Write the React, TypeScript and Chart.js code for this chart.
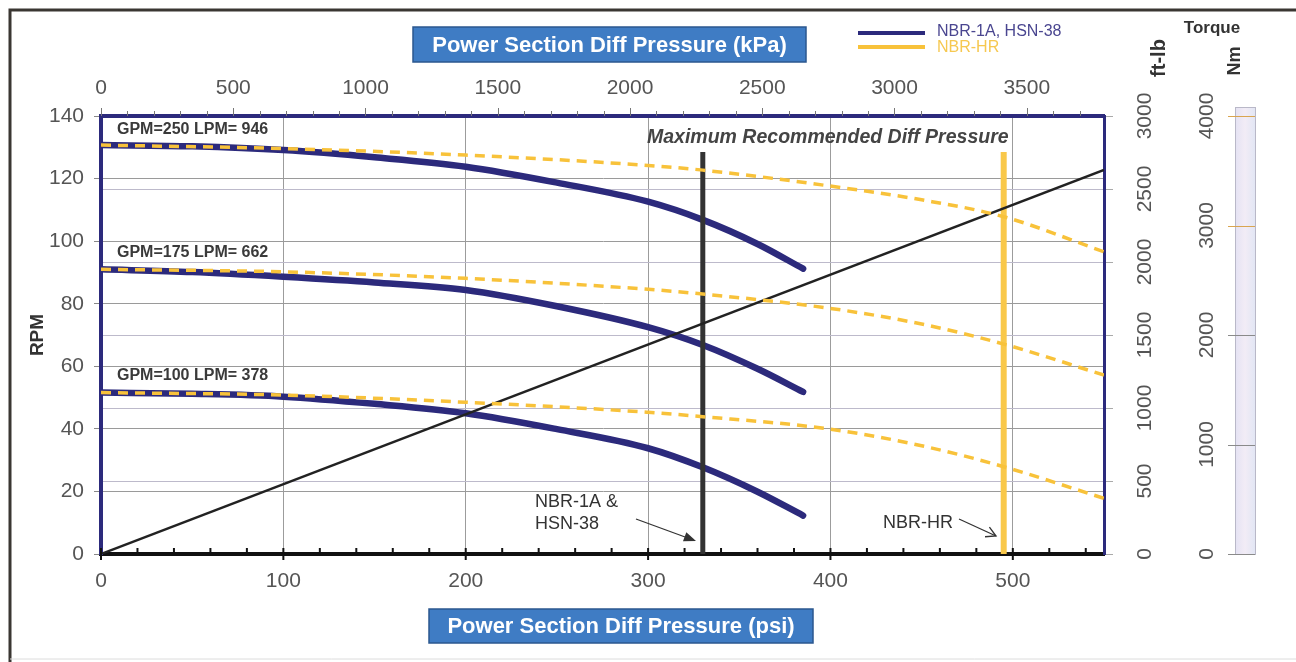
import React, { useEffect, useRef } from "react";
import { Chart, registerables } from "chart.js";

Chart.register(...registerables);

// ---------- data ----------
const KPA_PER_PSI = 6.894757;
const psiMax = 550;
const rpmMax = 140;
const ftlbMax = 3000;
const nmMax = 4000;

const psiTickValues = [0, 100, 200, 300, 400, 500];
const kpaTickValues = [0, 500, 1000, 1500, 2000, 2500, 3000, 3500];
const rpmTickValues = [0, 20, 40, 60, 80, 100, 120, 140];
const ftlbTickValues = [0, 500, 1000, 1500, 2000, 2500, 3000];
const nmTickValues = [0, 1000, 2000, 3000, 4000];

// NBR-1A, HSN-38 (solid navy)
const psiStd = [0, 50, 100, 150, 200, 250, 300, 330, 360, 385];
const rpm250Std = [130.7, 130.3, 129.1, 126.8, 123.8, 118.7, 112.6, 106.8, 99.1, 91.2];
const rpm175Std = [91.0, 90.1, 88.6, 86.8, 84.4, 79.2, 72.5, 66.8, 59.2, 51.8];
const rpm100Std = [51.6, 51.2, 50.3, 48.0, 45.0, 39.9, 33.8, 27.7, 19.9, 12.3];

// NBR-HR (dashed yellow)
const psiHR = [0, 100, 200, 300, 330, 400, 450, 495, 550];
const rpm250HR = [130.7, 129.6, 127.5, 124.2, 122.7, 117.6, 113.2, 107.8, 96.6];
const rpm175HR = [91.0, 90.2, 88.1, 84.6, 83.1, 78.5, 73.5, 67.1, 57.2];
const rpm100HR = [51.6, 50.8, 48.5, 45.3, 43.9, 39.9, 34.6, 27.9, 17.8];

// Torque line (ft-lb)
const psiTorque = [0, 550];
const torqueFtlb = [0, 2630];

// Maximum recommended diff pressure markers
const maxPsiStd = 330;
const maxPsiHR = 495;
const markerTopRpm = 128.5;

const flowLabels = ["GPM=250 LPM= 946", "GPM=175 LPM= 662", "GPM=100 LPM= 378"];
const flowLabelRpm = [135.5, 96.3, 57.0];

const NAVY = "#2c2a7c";
const GOLD = "#f8c23a";
const FONT = "'Liberation Sans', Arial, Helvetica, sans-serif";

function pts(xs: number[], ys: number[]) {
  return xs.map((x, i) => ({ x, y: ys[i] }));
}

function setTicks(values: number[]) {
  return (s: any) => {
    s.ticks = values.map((v) => ({ value: v }));
  };
}

function arrow(ctx: CanvasRenderingContext2D, x1: number, y1: number, x2: number, y2: number, filled: boolean) {
  const a = Math.atan2(y2 - y1, x2 - x1);
  const L = filled ? 13 : 11;
  const w = filled ? 0.38 : 0.5;
  ctx.beginPath();
  ctx.moveTo(x1, y1);
  ctx.lineTo(filled ? x2 - Math.cos(a) * 8 : x2, filled ? y2 - Math.sin(a) * 8 : y2);
  ctx.stroke();
  ctx.beginPath();
  ctx.moveTo(x2 - L * Math.cos(a - w), y2 - L * Math.sin(a - w));
  ctx.lineTo(x2, y2);
  ctx.lineTo(x2 - L * Math.cos(a + w), y2 - L * Math.sin(a + w));
  if (filled) {
    ctx.closePath();
    ctx.fill();
  } else ctx.stroke();
}

function titleBox(ctx: CanvasRenderingContext2D, x: number, y: number, w: number, h: number, text: string) {
  ctx.fillStyle = "#3f7cc4";
  ctx.fillRect(x, y, w, h);
  ctx.strokeStyle = "#2b578f";
  ctx.lineWidth = 1.5;
  ctx.strokeRect(x, y, w, h);
  ctx.fillStyle = "#ffffff";
  ctx.font = `bold 22px ${FONT}`;
  ctx.textAlign = "center";
  ctx.textBaseline = "middle";
  ctx.fillText(text, x + w / 2, y + h / 2 + 1);
}

const decor = {
  id: "decor",
  beforeDraw(chart: any) {
    const ctx: CanvasRenderingContext2D = chart.ctx;
    ctx.save();
    ctx.fillStyle = "#ffffff";
    ctx.fillRect(0, 0, chart.width, chart.height);
    // outer frame
    ctx.strokeStyle = "#3a3632";
    ctx.lineWidth = 3;
    ctx.beginPath();
    ctx.moveTo(10, 662);
    ctx.lineTo(10, 10);
    ctx.lineTo(1296, 10);
    ctx.stroke();
    ctx.strokeStyle = "#dcdcdc";
    ctx.lineWidth = 1;
    ctx.beginPath();
    ctx.moveTo(10, 659);
    ctx.lineTo(1296, 659);
    ctx.stroke();

    // Nm bar
    const s3 = chart.scales.y3;
    const top = s3.getPixelForValue(nmMax) - 9;
    const bot = s3.getPixelForValue(0);
    const g = ctx.createLinearGradient(1235, 0, 1255, 0);
    g.addColorStop(0, "#e4e2f3");
    g.addColorStop(0.5, "#f2ecf6");
    g.addColorStop(1, "#e2e6f4");
    ctx.fillStyle = g;
    ctx.fillRect(1235, top, 20, bot - top);
    ctx.strokeStyle = "#b9b8c8";
    ctx.lineWidth = 1;
    ctx.strokeRect(1235.5, top + 0.5, 20, bot - top);
    ctx.restore();
  },
  afterDatasetsDraw(chart: any) {
    const ctx: CanvasRenderingContext2D = chart.ctx;
    const x = chart.scales.x;
    const xt = chart.scales.xTop;
    const y = chart.scales.y;
    const y2 = chart.scales.y2;
    const y3 = chart.scales.y3;
    const area = chart.chartArea;
    ctx.save();

    // inner minor ticks bottom axis (every 20 psi)
    ctx.strokeStyle = "#111";
    ctx.lineWidth = 2;
    for (let v = 0; v <= psiMax; v += 20) {
      const px = x.getPixelForValue(v);
      ctx.beginPath();
      if (v % 100 === 0) {
        ctx.moveTo(px, area.bottom - 6);
        ctx.lineTo(px, area.bottom + 6);
      } else {
        ctx.moveTo(px, area.bottom - 6);
        ctx.lineTo(px, area.bottom);
      }
      ctx.stroke();
    }
    // top axis ticks (every 100 kPa)
    ctx.strokeStyle = "#777";
    ctx.lineWidth = 1;
    for (let v = 0; v <= psiMax * KPA_PER_PSI; v += 100) {
      const px = Math.round(xt.getPixelForValue(v)) + 0.5;
      ctx.beginPath();
      ctx.moveTo(px, area.top - (v % 500 === 0 ? 8 : 5));
      ctx.lineTo(px, area.top);
      ctx.stroke();
    }

    // Nm bar ticks
    for (let v = 0; v <= nmMax; v += 1000) {
      const py = Math.round(y3.getPixelForValue(v)) + 0.5;
      ctx.strokeStyle = v >= 3000 ? "#d9a550" : "#8a8a8a";
      ctx.beginPath();
      ctx.moveTo(1228, py);
      ctx.lineTo(1255, py);
      ctx.stroke();
    }

    // rotated right-axis labels
    ctx.fillStyle = "#555";
    ctx.font = `21px ${FONT}`;
    ctx.textAlign = "center";
    ctx.textBaseline = "middle";
    for (const t of y2.ticks) {
      const py = y2.getPixelForValue(t.value);
      ctx.save();
      ctx.translate(1145, py);
      ctx.rotate(-Math.PI / 2);
      ctx.fillText(String(t.value), 0, 0);
      ctx.restore();
    }
    for (const t of y3.ticks) {
      const py = y3.getPixelForValue(t.value);
      ctx.save();
      ctx.translate(1207, py);
      ctx.rotate(-Math.PI / 2);
      ctx.fillText(String(t.value), 0, 0);
      ctx.restore();
    }

    // axis titles
    ctx.fillStyle = "#333";
    ctx.font = `bold 19px ${FONT}`;
    ctx.save();
    ctx.translate(38, (area.top + area.bottom) / 2);
    ctx.rotate(-Math.PI / 2);
    ctx.fillText("RPM", 0, 0);
    ctx.restore();
    ctx.font = `bold 20px ${FONT}`;
    ctx.save();
    ctx.translate(1159, 58);
    ctx.rotate(-Math.PI / 2);
    ctx.fillText("ft-lb", 0, 0);
    ctx.restore();
    ctx.font = `bold 18px ${FONT}`;
    ctx.save();
    ctx.translate(1235, 61);
    ctx.rotate(-Math.PI / 2);
    ctx.fillText("Nm", 0, 0);
    ctx.restore();
    ctx.font = `bold 17px ${FONT}`;
    ctx.fillText("Torque", 1212, 28);

    // title boxes
    titleBox(ctx, 413, 27, 393, 35, "Power Section Diff Pressure (kPa)");
    titleBox(ctx, 429, 609, 384, 34, "Power Section Diff Pressure (psi)");

    // legend
    ctx.lineWidth = 4;
    ctx.strokeStyle = NAVY;
    ctx.beginPath();
    ctx.moveTo(858, 33);
    ctx.lineTo(925, 33);
    ctx.stroke();
    ctx.strokeStyle = GOLD;
    ctx.beginPath();
    ctx.moveTo(858, 47);
    ctx.lineTo(925, 47);
    ctx.stroke();
    ctx.font = `16px ${FONT}`;
    ctx.textAlign = "left";
    ctx.fillStyle = "#4a4690";
    ctx.fillText("NBR-1A, HSN-38", 937, 32);
    ctx.fillStyle = "#f6c850";
    ctx.fillText("NBR-HR", 937, 48);

    // flow labels
    ctx.fillStyle = "#3a3a3a";
    ctx.font = `bold 16px ${FONT}`;
    flowLabels.forEach((s, i) => {
      ctx.fillText(s, 117, y.getPixelForValue(flowLabelRpm[i]));
    });

    // max recommended
    ctx.fillStyle = "#444";
    ctx.font = `italic bold 19.5px ${FONT}`;
    ctx.fillText("Maximum Recommended Diff Pressure", 647, 138);

    // annotations
    ctx.fillStyle = "#333";
    ctx.font = `18px ${FONT}`;
    ctx.fillText("NBR-1A &", 535, 502);
    ctx.fillText("HSN-38", 535, 524);
    ctx.fillText("NBR-HR", 883, 523);
    ctx.strokeStyle = "#333";
    ctx.fillStyle = "#333";
    ctx.lineWidth = 1.3;
    arrow(ctx, 636, 519, 696, 541, true);
    arrow(ctx, 959, 519, 996, 536, false);

    ctx.restore();
  },
};

export default function App() {
  const ref = useRef<HTMLCanvasElement | null>(null);
  useEffect(() => {
    if (!ref.current) return;
    const lineBase = { pointRadius: 0, cubicInterpolationMode: "monotone" as const, xAxisID: "x" };
    const tickFont = { size: 21, family: FONT };
    const chart = new Chart(ref.current, {
      type: "line",
      data: {
        datasets: [
          ...[rpm250HR, rpm175HR, rpm100HR].map((d) => ({
            ...lineBase,
            data: pts(psiHR, d),
            yAxisID: "y",
            borderColor: GOLD,
            borderWidth: 3.5,
            borderDash: [10, 7],
            order: 1,
          })),
          {
            ...lineBase,
            data: pts(psiTorque, torqueFtlb),
            yAxisID: "y2",
            borderColor: "#222",
            borderWidth: 2.5,
            order: 2,
          },
          {
            ...lineBase,
            data: [
              { x: maxPsiHR, y: markerTopRpm },
              { x: maxPsiHR, y: 0 },
            ],
            yAxisID: "y",
            borderColor: "#f9c84a",
            borderWidth: 6,
            order: 3,
          },
          {
            ...lineBase,
            data: [
              { x: maxPsiStd, y: markerTopRpm },
              { x: maxPsiStd, y: 0 },
            ],
            yAxisID: "y",
            borderColor: "#333",
            borderWidth: 5,
            order: 4,
          },
          ...[rpm250Std, rpm175Std, rpm100Std].map((d) => ({
            ...lineBase,
            data: pts(psiStd, d),
            yAxisID: "y",
            borderColor: NAVY,
            borderWidth: 6.5,
            borderCapStyle: "round" as const,
            order: 5,
          })),
        ],
      },
      options: {
        responsive: false,
        animation: false,
        events: [],
        layout: { padding: 0 },
        plugins: { legend: { display: false }, tooltip: { enabled: false }, title: { display: false } },
        scales: {
          x: {
            type: "linear",
            position: "bottom",
            min: 0,
            max: psiMax,
            afterBuildTicks: setTicks(psiTickValues),
            afterFit: (s: any) => {
              s.height = 108;
            },
            ticks: {
              color: "#555",
              font: tickFont,
              padding: 15,
              maxRotation: 0,
              autoSkip: false,
              callback: (v: any) => String(v),
            },
            grid: { color: "#9c9c9c", lineWidth: 1, drawTicks: false },
            border: { color: "#111", width: 4 },
          },
          xTop: {
            type: "linear",
            position: "top",
            min: 0,
            max: psiMax * KPA_PER_PSI,
            afterBuildTicks: setTicks(kpaTickValues),
            afterFit: (s: any) => {
              s.height = 116;
            },
            ticks: {
              color: "#555",
              font: tickFont,
              padding: 15,
              maxRotation: 0,
              autoSkip: false,
              callback: (v: any) => String(v),
            },
            grid: { drawOnChartArea: false, drawTicks: false },
            border: { color: NAVY, width: 4 },
          },
          y: {
            type: "linear",
            position: "left",
            min: 0,
            max: rpmMax,
            afterBuildTicks: setTicks(rpmTickValues),
            afterFit: (s: any) => {
              s.width = 101;
            },
            ticks: {
              color: "#555",
              font: tickFont,
              padding: 10,
              autoSkip: false,
              callback: (v: any) => String(v),
            },
            grid: { color: "#9a9a9a", lineWidth: 1, tickLength: 7, tickColor: "#888" },
            border: { color: NAVY, width: 4 },
          },
          y2: {
            type: "linear",
            position: "right",
            weight: 0,
            min: 0,
            max: ftlbMax,
            afterBuildTicks: setTicks(ftlbTickValues),
            afterFit: (s: any) => {
              s.width = 80;
            },
            ticks: { display: false },
            grid: { color: "#bdbacb", lineWidth: 1, tickLength: 9, tickColor: "#aaa" },
            border: { color: NAVY, width: 3 },
          },
          y3: {
            type: "linear",
            position: "right",
            weight: 1,
            min: 0,
            max: nmMax,
            afterBuildTicks: setTicks(nmTickValues),
            afterFit: (s: any) => {
              s.width = 112;
            },
            ticks: { display: false },
            grid: { display: false },
            border: { display: false },
          },
        },
      } as any,
      plugins: [decor],
    });
    return () => chart.destroy();
  }, []);
  return (
    <div style={{ position: "fixed", left: 0, top: 0, width: 1296, height: 662, background: "#fff" }}>
      <canvas ref={ref} width={1296} height={662} style={{ display: "block" }} />
    </div>
  );
}
